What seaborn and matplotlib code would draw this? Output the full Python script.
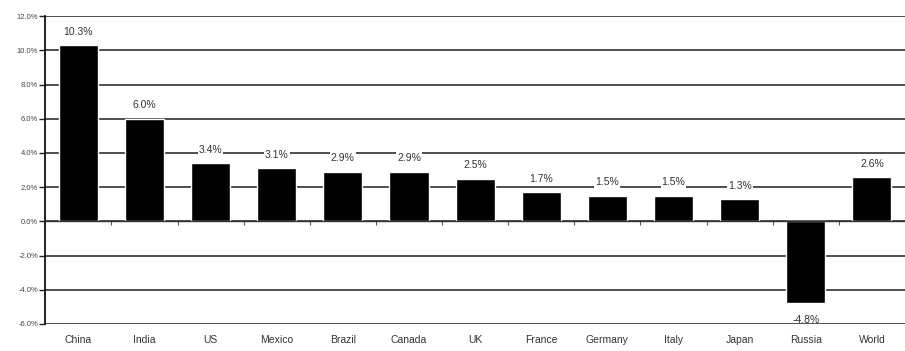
import matplotlib
matplotlib.use("Agg")
import matplotlib.pyplot as plt
import seaborn as sns
import pandas as pd

countries = ["China", "India", "US", "Mexico", "Brazil", "Canada", "UK",
             "France", "Germany", "Italy", "Japan", "Russia", "World"]
growth = [10.3, 6.0, 3.4, 3.1, 2.9, 2.9, 2.5, 1.7, 1.5, 1.5, 1.3, -4.8, 2.6]
y_ticks = [-6, -4, -2, 0, 2, 4, 6, 8, 10, 12]

sns.set_theme(style="white")
plt.rcParams["font.family"] = ["Liberation Sans", "DejaVu Sans"]

df = pd.DataFrame({"country": countries, "growth": growth})

fig = plt.figure(figsize=(9.05, 3.51), dpi=100)
ax = fig.add_axes([0.05, 0.077, 0.95, 0.877])

# horizontal grid behind the bars
for t in y_ticks:
    ax.axhline(t, color="#404040", linewidth=1.3, zorder=0)

sns.barplot(data=df, x="country", y="growth", color="black",
            saturation=1, width=0.59, ax=ax, zorder=2)

ax.set_ylim(-6, 12)
ax.set_xlim(-0.5, len(countries) - 0.5)
ax.set_yticks(y_ticks)
ax.set_yticklabels([f"{t:.1f}%" for t in y_ticks], fontsize=5.5, color="#444444")
ax.tick_params(axis="y", left=True, direction="out", length=4, width=1,
               color="#222222", pad=1)
ax.set_xlabel("")
ax.set_ylabel("")

for s in ["top", "right"]:
    ax.spines[s].set_visible(False)
ax.spines["left"].set_color("#111111")
ax.spines["left"].set_linewidth(1.3)

# zero baseline with small ticks between categories
ax.spines["bottom"].set_position(("data", 0))
ax.spines["bottom"].set_color("#333333")
ax.spines["bottom"].set_linewidth(1.0)
ax.set_xticks([i + 0.5 for i in range(len(countries) - 1)])
ax.set_xticklabels([])
ax.tick_params(axis="x", bottom=True, direction="out", length=3, width=0.8,
               color="#555555")

# category names below the plot
for i, name in enumerate(countries):
    ax.annotate(name, xy=(i, -6), xytext=(0, -8), textcoords="offset points",
                ha="center", va="top", fontsize=7.5, color="#333333")

# value labels
for i, v in enumerate(growth):
    if v >= 0:
        ax.annotate(f"{v:.1f}%", xy=(i, v), xytext=(0, 6),
                    textcoords="offset points", ha="center", va="bottom",
                    fontsize=7.5, color="#333333", zorder=3,
                    bbox=dict(boxstyle="square,pad=0.1", fc="white", ec="none"))
    else:
        ax.annotate(f"{v:.1f}%", xy=(i, v), xytext=(0, -8),
                    textcoords="offset points", ha="center", va="top",
                    fontsize=7.5, color="#333333", zorder=3)

fig.savefig("out.png", dpi=100)
